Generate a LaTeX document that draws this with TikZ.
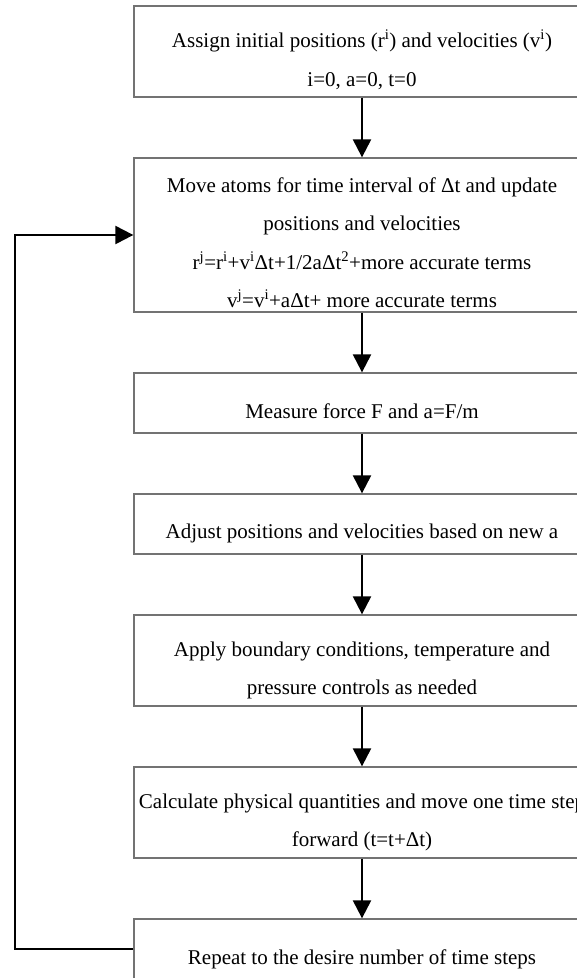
\documentclass[tikz,border=0pt]{standalone}
\usepackage{fontspec}
\setmainfont{Liberation Serif}
\usetikzlibrary{arrows.meta}
\begin{document}
\begin{tikzpicture}[x=1pt,y=-1pt,
  box/.style={draw=black!55,line width=1.3pt,rectangle,minimum width=456pt,inner sep=0pt},
  txt/.style={anchor=base,inner sep=0pt,font=\fontsize{21}{38.5}\selectfont},
  flow/.style={line width=2.2pt,-{Triangle[width=18pt,length=18pt]}}]
\useasboundingbox (0,0) rectangle (577,978);
\clip (0,0) rectangle (577,978);
\fill[white] (0,0) rectangle (577,978);
% boxes
\node[box,minimum height=91pt] (b1) at (362,51.5) {};
\node[box,minimum height=154pt] (b2) at (362,235) {};
\node[box,minimum height=60pt] (b3) at (362,403) {};
\node[box,minimum height=60pt] (b4) at (362,524) {};
\node[box,minimum height=91pt] (b5) at (362,660.5) {};
\node[box,minimum height=91pt] (b6) at (362,812.5) {};
\node[box,minimum height=60pt] (b7) at (362,949) {};
% texts
\node[txt] (t1a) at (362,47) {Assign initial positions (r\textsuperscript{i}) and velocities (v\textsuperscript{i})};
\node[txt] (t1b) at (362,86) {i=0, a=0, t=0};
\node[txt] (t2a) at (362,192) {Move atoms for time interval of Δt and update};
\node[txt] (t2b) at (362,230) {positions and velocities};
\node[txt] (t2c) at (362,269) {r\textsuperscript{j}=r\textsuperscript{i}+v\textsuperscript{i}Δt+1/2aΔt\textsuperscript{2}+more accurate terms};
\node[txt] (t2d) at (362,307) {v\textsuperscript{j}=v\textsuperscript{i}+aΔt+ more accurate terms};
\node[txt] (t3) at (362,418) {Measure force F and a=F/m};
\node[txt] (t4) at (362,538) {Adjust positions and velocities based on new a};
\node[txt] (t5a) at (362,656) {Apply boundary conditions, temperature and};
\node[txt] (t5b) at (362,694) {pressure controls as needed};
\node[txt] (t6a) at (362,808) {Calculate physical quantities and move one time step};
\node[txt] (t6b) at (362,846) {forward (t=t+Δt)};
\node[txt] (t7) at (362,964) {Repeat to the desire number of time steps};
% arrows
\draw[flow] (b1.south) -- (b2.north);
\draw[flow] (b2.south) -- (b3.north);
\draw[flow] (b3.south) -- (b4.north);
\draw[flow] (b4.south) -- (b5.north);
\draw[flow] (b5.south) -- (b6.north);
\draw[flow] (b6.south) -- (b7.north);
\coordinate (c1) at (15,949);
\coordinate (c2) at (15,235);
\draw[flow] (b7.west) -- (c1) -- (c2) -- (b2.west);
\end{tikzpicture}
\end{document}
